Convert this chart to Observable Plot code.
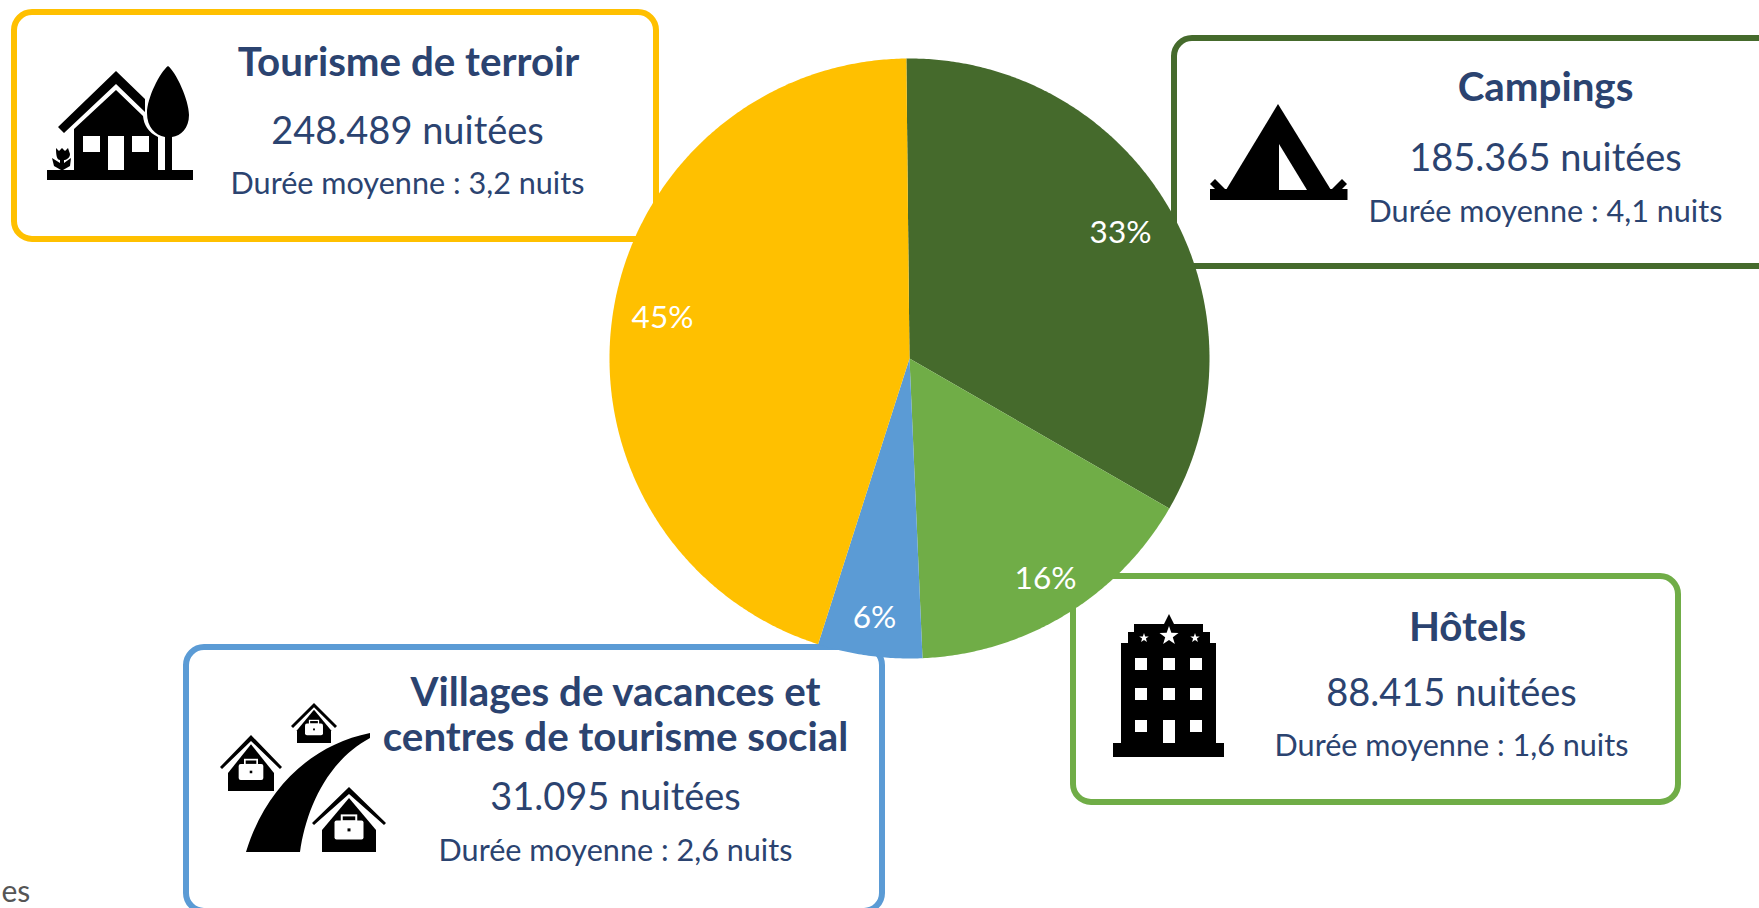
<!DOCTYPE html>
<html><head><meta charset="utf-8">
<script src="https://cdn.jsdelivr.net/npm/d3@7"></script>
<script src="https://cdn.jsdelivr.net/npm/@observablehq/plot@0.6"></script>
<style>html,body{margin:0;padding:0;background:#fff;overflow:hidden}svg{display:block}</style>
</head><body><div id="chart"></div>
<script>
// Data
const categories = ["Campings", "Hôtels", "Villages de vacances et\ncentres de tourisme social", "Tourisme de terroir"];
const nights = [185365, 88415, 31095, 248489];
const avgStay = [4.1, 1.6, 2.6, 3.2];
const shareLabels = ["33%", "16%", "6%", "45%"];
const colors = ["#456A2C", "#70AD47", "#5B9BD5", "#FFC000"];

// Layout (full-size pixel coordinates)
const W = 1759, H = 908;
const pie = {cx: 909, cy: 358, r: 300, start: -0.6 * Math.PI / 180};
const boxX1 = [1174, 1073, 186, 14], boxX2 = [1800, 1678, 882, 656];
const boxY1 = [38, 576, 647, 12], boxY2 = [266, 802, 911, 239];
const titleX = [1545, 1467, 615, 408], titleY = [86, 626, 714, 61];
const nightsX = [1545, 1451, 615, 407], nightsY = [158, 693, 797, 131];
const stayX = [1545, 1451, 615, 407], stayY = [212, 746, 851, 184];
const labelX = [1120, 1045, 874, 662], labelY = [232, 578, 617, 317];
const ink = "#2b4370", FONT = "Lato, sans-serif";

const idx = d3.range(categories.length);
const fmtNights = d3.formatLocale({decimal: ",", thousands: ".", grouping: [3], currency: ["", ""]}).format(",d");
const fmtStay = d3.formatLocale({decimal: ",", thousands: ".", grouping: [3], currency: ["", ""]}).format(".1f");

// Pie slices as polygons derived from the values
const arcs = d3.pie().sort(null).startAngle(pie.start).endAngle(pie.start + 2 * Math.PI)(nights);
const slicePts = idx.flatMap(i => {
  const a = arcs[i], n = Math.ceil((a.endAngle - a.startAngle) * 120), pts = [{c: categories[i], x: pie.cx, y: pie.cy}];
  for (let k = 0; k <= n; k++) {
    const t = a.startAngle + (a.endAngle - a.startAngle) * k / n;
    pts.push({c: categories[i], x: pie.cx + pie.r * Math.sin(t), y: pie.cy - pie.r * Math.cos(t)});
  }
  return pts;
});

// Decorative pictograms
function icons() {
  const g = d3.create("svg:g");
  const p = (d, fill = "#000") => g.append("path").attr("d", d).attr("fill", fill);
  const rect = (x, y, w, h, fill = "#fff") => g.append("rect").attr("x", x).attr("y", y).attr("width", w).attr("height", h).attr("fill", fill);
  // House + tree
  rect(47, 170, 146, 10, "#000");
  p("M58 127L116 71L145 99L145 112L116 84L64 133Z");
  p("M74 129L116 90L143 116C144 125 148 132 158 137L158 170L74 170Z");
  rect(83, 136, 17, 16); rect(108, 136, 16, 34); rect(132, 136, 17, 16);
  p("M168 66C176 72 189 100 189 115C189 128 181 136 172 137L172 170L165 170L165 137C155 135 147 127 147 113C147 98 160 72 168 66Z");
  p("M56 148L59 151L62 148L65 151L68 148L70 154C70 158 66 160 64 160L64 163L71 158L70 166L63 170L61 170L54 166L52 158L60 163L60 160C57 160 56 156 56 148Z");
  // Tent
  rect(1210, 189, 137.5, 11, "#000");
  p("M1278 104L1331 190L1226 190Z");
  p("M1279 144L1307 190L1279 190Z", "#fff");
  p("M1210 184L1215 179L1228 192L1222 196Z");
  p("M1347 184L1342 179L1329 192L1335 196Z");
  // Hotel
  rect(1113, 743, 111, 14, "#000");
  rect(1121, 643, 95, 101, "#000");
  rect(1128, 632, 82, 12, "#000");
  rect(1134, 624, 69, 9, "#000");
  p("M1169 614L1175 626L1163 626Z");
  for (const wy of [658, 688]) for (const wx of [1135, 1163, 1190]) rect(wx, wy, 12, 12);
  rect(1135, 720, 12, 12); rect(1190, 720, 12, 12); rect(1163, 720, 12, 23);
  const star = (cx, cy, R) => {
    let d = "";
    for (let k = 0; k < 10; k++) {
      const r = k % 2 ? R * 0.4 : R, t = k * Math.PI / 5;
      d += (k ? "L" : "M") + (cx + r * Math.sin(t)) + " " + (cy - r * Math.cos(t));
    }
    p(d + "Z", "#fff");
  };
  star(1169, 636, 10); star(1144, 638, 5); star(1195, 638, 5);
  // Road + houses
  p("M246 852C265 790 310 745 370 733L370 738C326 762 306 810 300 852Z");
  const house = (ax, ay, ex, ey, bw, by, s) => {
    p(`M${ax} ${ay}L${ax + ex} ${ay + ey}L${ax + ex - 2} ${ay + ey + 2}L${ax} ${ay + 7 * s}L${ax - ex + 2} ${ay + ey + 2}L${ax - ex} ${ay + ey}Z`);
    p(`M${ax} ${ay + 11 * s}L${ax + bw} ${ay + 11 * s + (ey - 4 * s)}L${ax + bw} ${by}L${ax - bw} ${by}L${ax - bw} ${ay + 11 * s + (ey - 4 * s)}Z`);
    const cw = 29 * s, ch = 19 * s, cy = ay + (by - ay) * 0.66;
    g.append("rect").attr("x", ax - cw / 2).attr("y", cy - ch / 2).attr("width", cw).attr("height", ch).attr("rx", 2).attr("fill", "#fff");
    g.append("rect").attr("x", ax - cw / 4).attr("y", cy - ch / 2 - 5 * s).attr("width", cw / 2).attr("height", 6 * s).attr("fill", "none").attr("stroke", "#fff").attr("stroke-width", 2 * s);
    rect(ax - 1.5 * s, cy - 1.5 * s, 3 * s, 3 * s, "#000");
  };
  house(349, 787, 37, 36, 27, 852, 1);
  house(251, 735, 31, 32, 23, 791, 0.85);
  house(314, 703, 23, 23, 17, 743, 0.62);
  return g.node();
}

const chart = Plot.plot({
  width: W, height: H, margin: 0,
  x: {domain: [0, W], range: [0, W], axis: null},
  y: {domain: [0, H], range: [0, H], axis: null},
  color: {domain: categories, range: colors},
  style: {background: "#fff", fontFamily: FONT},
  marks: [
    Plot.rect(idx, {x1: i => boxX1[i], x2: i => boxX2[i], y1: i => boxY1[i], y2: i => boxY2[i],
      fill: "#fff", stroke: i => categories[i], strokeWidth: 6, rx: 18}),
    Plot.line(slicePts, {x: "x", y: "y", z: "c", fill: "c", stroke: "none"}),
    icons,
    Plot.text(idx, {x: i => titleX[i], y: i => titleY[i], text: i => categories[i], fill: ink,
      fontSize: 40.3, fontWeight: 700, lineHeight: 1.11}),
    Plot.text(idx, {x: i => nightsX[i], y: i => nightsY[i], text: i => fmtNights(nights[i]) + " nuitées", fill: ink, fontSize: 38}),
    Plot.text(idx, {x: i => stayX[i], y: i => stayY[i], text: i => "Durée moyenne : " + fmtStay(avgStay[i]) + " nuits", fill: ink, fontSize: 30.6}),
    Plot.text(idx, {x: i => labelX[i], y: i => labelY[i], text: i => shareLabels[i], fill: "#fff", fontSize: 31.5}),
    Plot.text(["es"], {x: 1, y: 892, text: d => d, fill: "#555", fontSize: 30, textAnchor: "start"})
  ]
});
document.getElementById("chart").appendChild(chart);
</script></body></html>
